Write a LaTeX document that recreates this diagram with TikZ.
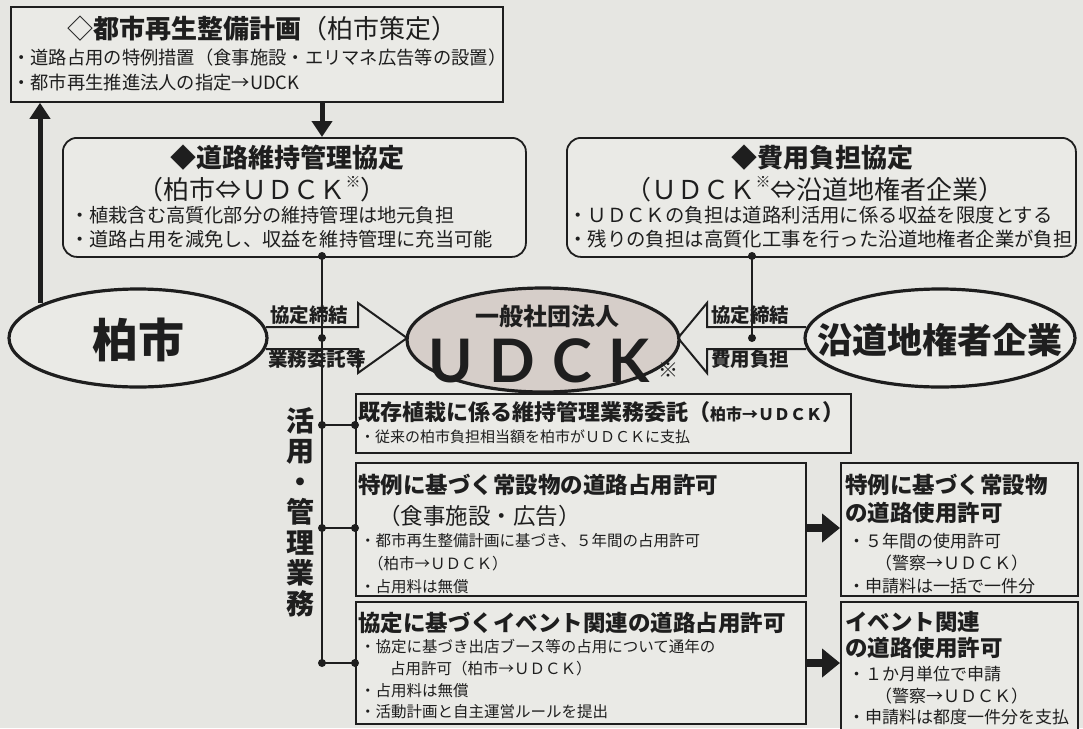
\documentclass[tikz,border=0pt]{standalone}
\usepackage{fontspec}
\setmainfont{Noto Sans CJK JP}
\newfontfamily\udckfont{Lato}
\usetikzlibrary{shapes.geometric,calc,arrows.meta}
\definecolor{paper}{HTML}{E6E6E2}
\definecolor{boxfill}{HTML}{EAEAE6}
\definecolor{udck}{HTML}{D6CEC9}
\definecolor{ink}{HTML}{1E1E1E}
\newcommand\myfs[1]{\fontsize{#1}{#1}\selectfont}
\tikzset{
  frame/.style={draw=ink, line width=1.8pt, fill=boxfill, inner sep=0pt, anchor=north west},
  rframe/.style={frame, rounded corners=14pt},
  oval/.style={ellipse, draw=ink, line width=3.2pt, fill=boxfill, inner sep=0pt},
  txt/.style={anchor=west, inner sep=0pt, text=ink},
  ctxt/.style={inner sep=0pt, text=ink},
  dot/.style={circle, fill=ink, inner sep=0pt, minimum size=8pt},
  thinline/.style={draw=ink, line width=1.4pt},
  block/.style={draw=ink, line width=2pt, fill=paper, line join=miter},
  fatarrow/.style={draw=ink, line width=5pt, -{Triangle[length=16pt,width=20pt]}},
  wideArrow/.style={draw=ink, line width=8pt, -{Triangle[length=18pt,width=28pt]}},
}
\begin{document}
\begin{tikzpicture}[x=1pt,y=-1pt]
\useasboundingbox (0,0) rectangle (1083,728);
\fill[paper] (0,0) rectangle (1083,728);

% ---------- top box ----------
\node[frame, minimum width=492pt, minimum height=95pt] (top) at (10,6) {};
\node[ctxt] (topT) at (262,29) {\myfs{26}◇\textbf{都市再生整備計画}（柏市策定）};
\node[txt] (topB1) at (12,58) {\myfs{18.3}・道路占用の特例措置（食事施設・エリマネ広告等の設置）};
\node[txt] (topB2) at (12,83) {\myfs{18.3}・都市再生推進法人の指定→UDCK};

% ---------- agreement boxes ----------
\node[rframe, minimum width=463pt, minimum height=119pt] (road) at (62,137) {};
\node[ctxt] (roadT) at (287,158) {\myfs{26}\textbf{◆道路維持管理協定}};
\node[ctxt] (roadT2) at (262,189) {\myfs{26}（柏市⇔ＵＤＣＫ\raisebox{0.45em}{\myfs{15}※}）};
\node[txt] (roadB1) at (70,215) {\myfs{19.2}・植栽含む高質化部分の維持管理は地元負担};
\node[txt] (roadB2) at (70,239) {\myfs{19.2}・道路占用を減免し、収益を維持管理に充当可能};

\node[rframe, minimum width=509pt, minimum height=119pt] (cost) at (566,137) {};
\node[ctxt] (costT) at (822,158) {\myfs{26}\textbf{◆費用負担協定}};
\node[ctxt] (costT2) at (815,189) {\myfs{26}（ＵＤＣＫ\raisebox{0.45em}{\myfs{15}※}⇔沿道地権者企業）};
\node[txt] (costB1) at (568,215) {\myfs{19.4}・ＵＤＣＫの負担は道路利活用に係る収益を限度とする};
\node[txt] (costB2) at (568,239) {\myfs{19.4}・残りの負担は高質化工事を行った沿道地権者企業が負担};

% ---------- block arrows ----------
\draw[block] (266,327) -- (358,327) -- (358,303) -- (407,338) -- (358,373) -- (358,349) -- (266,349);
\draw[block] (806,327) -- (707,327) -- (707,303) -- (678,338) -- (707,373) -- (707,349) -- (806,349);

% ---------- ellipses ----------
\node[oval, minimum width=258pt, minimum height=98pt] (kashiwa) at (138,338) {};
\node[ctxt] (kashiwaT) at (138,340) {\myfs{46}\textbf{柏市}};
\node[oval, fill=udck, minimum width=272pt, minimum height=104pt] (udck) at (543,340) {};
\node[ctxt] (udckT1) at (547,316) {\myfs{24}\textbf{一般社団法人}};
\node[ctxt] (udckT2) at (539,361) {\udckfont\bfseries\myfs{60}U\hspace{17pt}D\hspace{17pt}C\hspace{17pt}K};
\node[ctxt] (udckT3) at (668,370) {\myfs{20}※};
\node[oval, minimum width=270pt, minimum height=98pt] (ensou) at (940,338) {};
\node[ctxt] (ensouT) at (940,340) {\myfs{35}\textbf{沿道地権者企業}};

% arrow labels
\node[txt] (l1) at (270,315) {\myfs{19.5}\textbf{協定締結}};
\node[txt] (l2) at (268,359) {\myfs{19.5}\textbf{業務委託等}};
\node[txt] (r1) at (711,315) {\myfs{19.5}\textbf{協定締結}};
\node[txt] (r2) at (711,359) {\myfs{19.5}\textbf{費用負担}};

% ---------- thick arrows to top box ----------
\coordinate (kup) at (40,303);
\draw[fatarrow] (kup) -- (kup |- top.south);
\coordinate (j0) at (322,256);
\draw[fatarrow] (top.south -| j0) -- (road.north -| j0);

% ---------- bottom boxes ----------
\node[frame, minimum width=495pt, minimum height=59pt] (boxA) at (355,393) {};
\node[txt] (boxAT) at (358,412) {\bfseries\myfs{22}既存植栽に係る維持管理業務委託（{\myfs{16}柏市→ＵＤＣＫ}）};
\node[txt] (boxAB) at (360,437) {\myfs{15}・従来の柏市負担相当額を柏市がＵＤＣＫに支払};

\node[frame, minimum width=450pt, minimum height=133pt] (boxB) at (355,462) {};
\node[txt] (boxBT) at (358,485) {\myfs{22.5}\textbf{特例に基づく常設物の道路占用許可}};
\node[txt] (boxBT2) at (378,516) {\myfs{22.5}（食事施設・広告）};
\node[txt] (boxBB1) at (360,541) {\myfs{15.5}・都市再生整備計画に基づき、５年間の占用許可};
\node[txt] (boxBB2) at (368,564) {\myfs{15.5}（柏市→ＵＤＣＫ）};
\node[txt] (boxBB3) at (360,587) {\myfs{15.5}・占用料は無償};

\node[frame, minimum width=450pt, minimum height=122pt] (boxC) at (355,601) {};
\node[txt] (boxCT) at (358,623) {\myfs{22.5}\textbf{協定に基づくイベント関連の道路占用許可}};
\node[txt] (boxCB1) at (360,647) {\myfs{15.5}・協定に基づき出店ブース等の占用について通年の};
\node[txt] (boxCB2) at (390,669) {\myfs{15.5}占用許可（柏市→ＵＤＣＫ）};
\node[txt] (boxCB3) at (360,691) {\myfs{15.5}・占用料は無償};
\node[txt] (boxCB4) at (360,712) {\myfs{15.5}・活動計画と自主運営ルールを提出};

\node[frame, minimum width=237pt, minimum height=133pt] (boxD) at (840,462) {};
\node[txt] (boxDT1) at (845,485) {\myfs{22.5}\textbf{特例に基づく常設物}};
\node[txt] (boxDT2) at (845,513) {\myfs{22.5}\textbf{の道路使用許可}};
\node[txt] (boxDB1) at (848,541) {\myfs{17}・５年間の使用許可};
\node[txt] (boxDB2) at (875,563) {\myfs{17}（警察→ＵＤＣＫ）};
\node[txt] (boxDB3) at (848,586) {\myfs{17}・申請料は一括で一件分};

\node[frame, minimum width=237pt, minimum height=135pt] (boxE) at (840,601) {};
\node[txt] (boxET1) at (845,622) {\myfs{22.5}\textbf{イベント関連}};
\node[txt] (boxET2) at (845,648) {\myfs{22.5}\textbf{の道路使用許可}};
\node[txt] (boxEB1) at (848,674) {\myfs{17}・１か月単位で申請};
\node[txt] (boxEB2) at (875,696) {\myfs{17}（警察→ＵＤＣＫ）};
\node[txt] (boxEB3) at (848,717) {\myfs{17}・申請料は都度一件分を支払};

% ---------- vertical connector ----------
\coordinate (j1) at (322,338);
\coordinate (j2) at (322,425);
\coordinate (j3) at (322,528);
\coordinate (j4) at (322,663);
\draw[thinline] (j0) -- (j4);
\draw[thinline] (j2) -- (boxA.west |- j2);
\draw[thinline] (j3) -- (boxB.west |- j3);
\draw[thinline] (j4) -- (boxC.west |- j4);
\foreach \p in {j0,j1,j2,j3,j4} \node[dot] at (\p) {};
\node[dot] (dA) at (boxA.west |- j2) {};
\node[dot] (dB) at (boxB.west |- j3) {};
\node[dot] (dC) at (boxC.west |- j4) {};

\coordinate (k0) at (752,256);
\coordinate (k1) at (752,338);
\draw[thinline] (k0) -- (k1);
\node[dot] (dk0) at (k0) {};
\node[dot] (dk1) at (k1) {};

\node[ctxt, align=center, font=\bfseries\fontsize{28}{30.5}\selectfont] (vert) at (300,512) {活\\用\\・\\管\\理\\業\\務};

% ---------- thick arrows B->D, C->E ----------
\draw[wideArrow] (boxB.east |- j3) -- (boxD.west |- j3);
\draw[wideArrow] (boxC.east |- j4) -- (boxE.west |- j4);
\end{tikzpicture}
\end{document}
